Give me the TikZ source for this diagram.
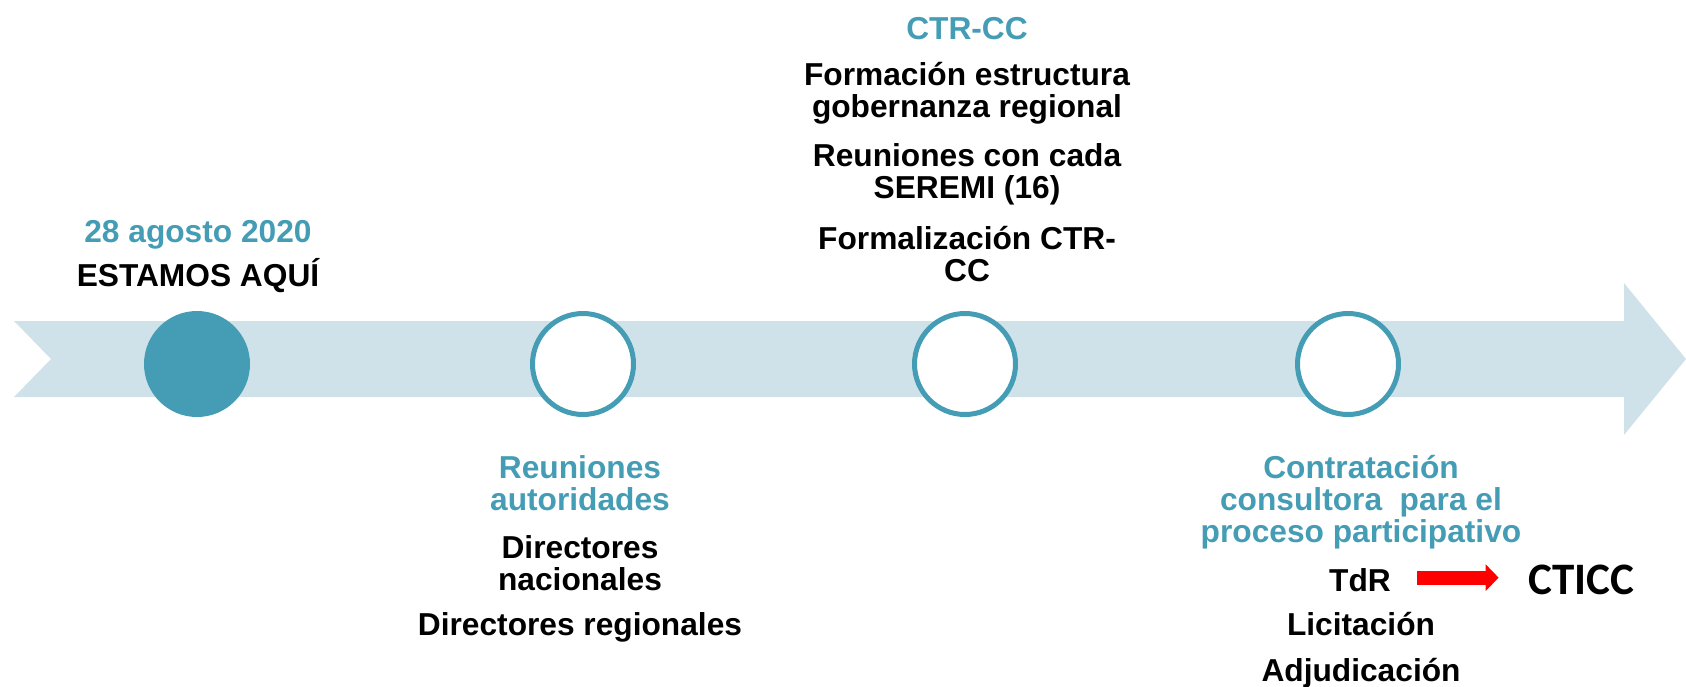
\documentclass[tikz,border=0pt]{standalone}
\usepackage{fontspec}
\setmainfont{Liberation Sans}
\newfontfamily\calfont{Carlito}
\usetikzlibrary{positioning,arrows.meta}

\definecolor{tealc}{RGB}{68,157,181}
\definecolor{bandc}{RGB}{208,226,233}

\begin{document}
\begin{tikzpicture}[
  x=0.5pt, y=-0.5pt,
  stop/.style={draw=tealc, circle, line width=2.5pt, fill=white, minimum size=50.5pt, inner sep=0pt},
  here/.style={stop, fill=tealc},
  lbl/.style={font=\bfseries\fontsize{15.85}{16}\selectfont, align=center, inner sep=0pt, anchor=base},
  hdr/.style={lbl, text=tealc},
  push/.style={-{Triangle[length=6.5pt,width=13pt]}, line width=7pt, red}
]
\useasboundingbox (0,0) rectangle (1686,686);

% Timeline band
\fill[bandc] (14,321) -- (1624,321) -- (1624,283) -- (1686,359)
  -- (1624,435) -- (1624,397) -- (14,397) -- (51,359) -- cycle;

% Stops on the band
\node[here] (now) at (197,364) {};
\node[stop] (aut) at (583,364) {};
\node[stop] (ctr) at (965,364) {};
\node[stop] (con) at (1348,364) {};

% Labels (first stop); multi-line labels sit on their last line
\node[hdr] (date) at (198,242) {28 agosto 2020};
\node[lbl] (aqui) at (198,286) {ESTAMOS AQUÍ};

% Labels (second stop)
\node[hdr] (reun) at (580,510) {Reuniones\\autoridades};
\node[lbl] (dnac) at (580,590) {Directores\\nacionales};
\node[lbl] (dreg) at (580,635) {Directores regionales};

% Labels (third stop)
\node[hdr] (ctrcc) at (967,39) {CTR-CC};
\node[lbl] (form) at (967,117) {Formación estructura\\gobernanza regional};
\node[lbl] (sere) at (967,198) {Reuniones con cada\\SEREMI (16)};
\node[lbl] (fctr) at (967,281) {Formalización CTR-\\CC};

% Labels (fourth stop)
\node[hdr] (contr) at (1361,542) {Contratación\\consultora\ \ para el\\proceso participativo};
\node[lbl] (tdr) at (1360,591) {TdR};
\node[lbl] (lic) at (1361,635) {Licitación};
\node[lbl] (adj) at (1361,681) {Adjudicación};
\node[anchor=base, inner sep=0pt, font=\calfont\bfseries\fontsize{22.5}{24}\selectfont] (cticc) at (1581,594) {CTICC};

% TdR feeds the CTICC
\draw[push, shorten <=13pt, shorten >=14.5pt] ([yshift=1pt]tdr.east) -- ([yshift=1pt]tdr.east -| cticc.west);

\end{tikzpicture}
\end{document}
